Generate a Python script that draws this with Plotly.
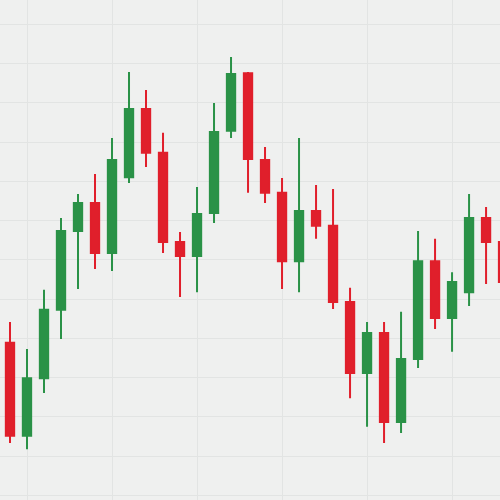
import plotly.graph_objects as go

idx = list(range(30))
open_ = [78.9, 55.2, 69.9, 87.3, 107.4, 114.5, 101.8, 121.1, 138.5, 127.3,
         104.6, 101.0, 112.0, 132.9, 147.6, 125.5, 117.1, 99.7, 112.5, 108.7,
         89.3, 71.2, 81.4, 58.7, 74.8, 99.7, 85.2, 91.8, 110.7, 104.6]
high = [84.2, 77.3, 92.4, 110.7, 116.8, 121.9, 131.1, 147.9, 143.3, 132.4,
        107.1, 118.6, 140.0, 151.7, 147.9, 128.8, 120.9, 131.1, 119.1, 118.1,
        92.9, 84.2, 84.2, 86.8, 107.4, 105.4, 96.9, 116.8, 113.5, 106.1]
low = [53.4, 51.8, 66.1, 79.9, 92.6, 97.7, 97.2, 119.6, 123.7, 101.8,
       90.6, 91.8, 109.4, 131.1, 117.1, 114.5, 92.6, 91.8, 105.4, 87.5,
       64.8, 57.5, 53.4, 55.9, 72.5, 82.4, 76.6, 88.3, 93.9, 92.4]
close = [55.2, 69.9, 87.3, 107.4, 114.5, 101.8, 125.5, 138.5, 127.3, 104.6,
         101.0, 111.7, 132.6, 147.4, 125.7, 117.1, 99.7, 112.5, 108.7, 89.3,
         71.2, 81.4, 58.7, 74.8, 99.7, 85.2, 94.4, 110.7, 104.6, 94.4]

GREEN = "#2a9247"
RED = "#e01f2b"
BG = "#eff0ef"

fig = go.Figure(go.Candlestick(
    x=idx, open=open_, high=high, low=low, close=close,
    increasing=dict(line=dict(color=GREEN, width=2), fillcolor=GREEN),
    decreasing=dict(line=dict(color=RED, width=2), fillcolor=RED),
    whiskerwidth=0,
    hoverinfo="skip",
))

fig.update_layout(
    width=500, height=500,
    margin=dict(l=0, r=0, t=0, b=0),
    paper_bgcolor=BG,
    plot_bgcolor=BG,
    showlegend=False,
    xaxis=dict(range=[-0.588, 28.82], showticklabels=False, ticks="",
               showgrid=True, gridcolor="#e2e4e3", gridwidth=1,
               tick0=1, dtick=5, zeroline=False, rangeslider=dict(visible=False),
               showline=False),
    yaxis=dict(range=[38.85, 166.24], showticklabels=False, ticks="",
               showgrid=True, gridcolor="#e2e4e3", gridwidth=1,
               tick0=0, dtick=10, zeroline=False, showline=False),
)

fig.write_html(
    "out.html",
    config={"displayModeBar": False},
    post_script="document.body.style.margin='0';document.body.style.overflow='hidden';document.body.style.background='" + BG + "';",
)
